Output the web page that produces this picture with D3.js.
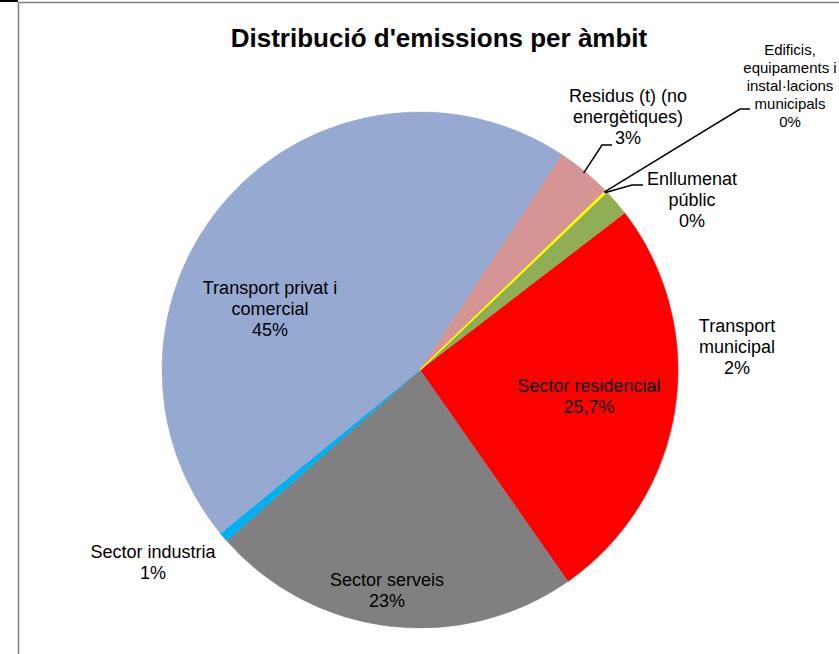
<!DOCTYPE html>
<html>
<head>
<meta charset="utf-8">
<script src="https://cdn.jsdelivr.net/npm/d3@7"></script>
<style>
  body { margin: 0; background: #fff; }
  svg { display: block; }
  text { font-family: "Liberation Sans", Arial, sans-serif; fill: #000; }
</style>
</head>
<body>
<div id="chart"></div>
<script>
// slices, clockwise starting from the first one
var categories = [
  "Sector residencial",
  "Sector serveis",
  "Sector industria",
  "Transport privat i comercial",
  "Residus (t) (no energètiques)",
  "Edificis, equipaments i instal·lacions municipals",
  "Enllumenat públic",
  "Transport municipal"
];
var values = [25.7, 23.2, 0.6, 45.2, 3.5, 0, 0.1, 1.7];
var pctLabels = ["25,7%", "23%", "1%", "45%", "3%", "0%", "0%", "2%"];
var colors = ["#ff0000", "#808080", "#00b0f0", "#95a9d1", "#d49594", "#4f81bd", "#ffff00", "#8fae55"];

// how each label is broken into lines
var labelLines = [
  ["Sector residencial"],
  ["Sector serveis"],
  ["Sector industria"],
  ["Transport privat i", "comercial"],
  ["Residus (t) (no", "energètiques)"],
  ["Edificis,", "equipaments i", "instal·lacions", "municipals"],
  ["Enllumenat", "públic"],
  ["Transport", "municipal"]
];

var W = 839, H = 654;
var cx = 420, cy = 370, r = 258;
var startDeg = 52.5;

// label placement (x centre, first baseline, size, line step) and leader elbows
var layout = [
  { x: 589, y: 392, size: 18, step: 21 },
  { x: 387, y: 586, size: 18, step: 21 },
  { x: 153, y: 558, size: 18, step: 21 },
  { x: 270, y: 294, size: 18, step: 21 },
  { x: 628, y: 102, size: 18, step: 21, leader: [[602, 145], [612, 145]] },
  { x: 790, y: 55, size: 15, step: 18, leader: [[740, 109], [750, 109]] },
  { x: 692, y: 185, size: 18, step: 21, leader: [[632, 185], [643, 185]] },
  { x: 737, y: 332, size: 18, step: 21 }
];

var data = categories.map(function(c, i) {
  return { name: c, value: values[i], pct: pctLabels[i], color: colors[i], lines: labelLines[i], lay: layout[i] };
});

var svg = d3.select("#chart").append("svg")
  .attr("width", W)
  .attr("height", H);

svg.append("rect").attr("width", W).attr("height", H).attr("fill", "#fff");

// frame of the chart area
svg.append("line")
  .attr("x1", 0).attr("x2", 18).attr("y1", 1).attr("y2", 1)
  .attr("stroke", "#000").attr("stroke-width", 2);
svg.append("rect")
  .attr("x", 18.5).attr("y", 2.5)
  .attr("width", W + 20).attr("height", H + 20)
  .attr("fill", "none")
  .attr("stroke", "#7f7f7f").attr("stroke-width", 1.5);

// title
svg.append("text")
  .attr("x", 439).attr("y", 47)
  .attr("text-anchor", "middle")
  .style("font-size", "26px")
  .style("font-weight", "bold")
  .text("Distribució d'emissions per àmbit");

var a0 = startDeg * Math.PI / 180;
var pie = d3.pie()
  .sort(null)
  .startAngle(a0)
  .endAngle(a0 + 2 * Math.PI)
  .value(function(d) { return d.value; });

var arc = d3.arc().innerRadius(0).outerRadius(r);
var edgeArc = d3.arc().innerRadius(r - 2).outerRadius(r - 2);

var g = svg.append("g").attr("transform", "translate(" + cx + "," + cy + ")");
var arcs = pie(data);

g.selectAll("path.slice")
  .data(arcs)
  .enter()
  .append("path")
  .attr("class", "slice")
  .attr("d", arc)
  .attr("fill", function(d) { return d.data.color; })
  .attr("stroke", function(d) { return d.data.color; })
  .attr("stroke-width", function(d) { return d.value > 0 ? 0.6 : 0; });

// the tiny yellow slice shows as a thin line in the original, keep it visible
g.selectAll("path.thin")
  .data(arcs.filter(function(d) { return d.value > 0 && d.value < 0.5; }))
  .enter()
  .append("path")
  .attr("class", "thin")
  .attr("d", arc)
  .attr("fill", function(d) { return d.data.color; })
  .attr("stroke", function(d) { return d.data.color; })
  .attr("stroke-width", 1.2)
  .attr("stroke-linejoin", "miter");

// leader lines for the small slices
arcs.forEach(function(d) {
  var lay = d.data.lay;
  if (!lay.leader) return;
  var p = edgeArc.centroid(d);
  var pts = [[cx + p[0], cy + p[1]]].concat(lay.leader);
  svg.append("path")
    .attr("d", d3.line()(pts))
    .attr("fill", "none")
    .attr("stroke", "#000")
    .attr("stroke-width", 1.5);
});

// labels
data.forEach(function(d) {
  var lay = d.lay;
  var t = svg.append("text")
    .attr("text-anchor", "middle")
    .style("font-size", lay.size + "px");
  d.lines.concat([d.pct]).forEach(function(line, i) {
    t.append("tspan")
      .attr("x", lay.x)
      .attr("y", lay.y + i * lay.step)
      .text(line);
  });
});
</script>
</body>
</html>
